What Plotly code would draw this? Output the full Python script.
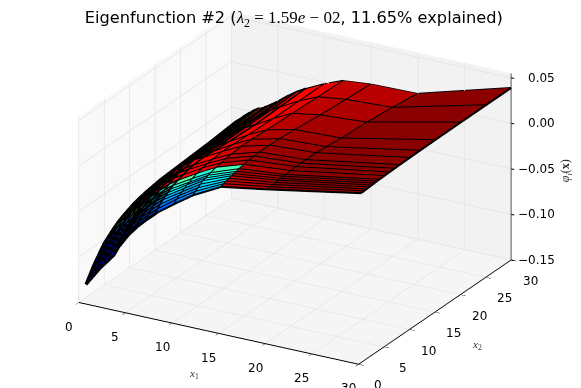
"""Eigenfunction surface over a non-uniform grid."""

import plotly.graph_objects as go

X_GRID = [0.5, 1, 1.5, 2, 2.5, 3, 3.5, 4, 5, 6, 7, 8, 10, 12, 15, 20, 30]
Y_GRID = [0.5, 1, 1.5, 2, 2.5, 3, 3.5, 4, 5, 6, 7, 8, 10, 12, 15, 20, 25, 30]

# one row per Y_GRID entry, one column per X_GRID entry
Z_VALUES = [
    [-0.131, -0.124, -0.117, -0.110, -0.104, -0.098, -0.092, -0.082, -0.067, -0.055, -0.045, -0.036, -0.021, -0.007, 0.009, 0.0175, 0.036],
    [-0.126, -0.119, -0.112, -0.105, -0.099, -0.093, -0.087, -0.078, -0.064, -0.052, -0.042, -0.033, -0.018, -0.005, 0.010, 0.018, 0.0362],
    [-0.121, -0.114, -0.107, -0.101, -0.095, -0.089, -0.083, -0.074, -0.060, -0.049, -0.039, -0.030, -0.016, -0.003, 0.011, 0.0185, 0.0364],
    [-0.116, -0.110, -0.103, -0.097, -0.091, -0.085, -0.079, -0.071, -0.057, -0.046, -0.036, -0.027, -0.014, -0.001, 0.012, 0.019, 0.0366],
    [-0.112, -0.106, -0.099, -0.093, -0.087, -0.081, -0.076, -0.068, -0.054, -0.043, -0.033, -0.025, -0.012, 0.001, 0.013, 0.0195, 0.0368],
    [-0.108, -0.102, -0.095, -0.089, -0.083, -0.078, -0.073, -0.065, -0.052, -0.041, -0.031, -0.023, -0.010, 0.002, 0.0135, 0.0195, 0.037],
    [-0.104, -0.098, -0.092, -0.086, -0.080, -0.075, -0.070, -0.062, -0.049, -0.038, -0.029, -0.021, -0.009, 0.003, 0.014, 0.020, 0.0372],
    [-0.100, -0.094, -0.088, -0.083, -0.077, -0.072, -0.067, -0.060, -0.047, -0.036, -0.027, -0.019, -0.007, 0.004, 0.015, 0.020, 0.0374],
    [-0.095, -0.089, -0.083, -0.078, -0.072, -0.067, -0.062, -0.055, -0.043, -0.033, -0.024, -0.017, -0.005, 0.006, 0.016, 0.0205, 0.0376],
    [-0.090, -0.084, -0.079, -0.074, -0.068, -0.063, -0.058, -0.051, -0.040, -0.030, -0.021, -0.015, -0.003, 0.007, 0.017, 0.021, 0.0378],
    [-0.086, -0.081, -0.076, -0.071, -0.065, -0.060, -0.055, -0.048, -0.037, -0.028, -0.019, -0.013, -0.002, 0.008, 0.0175, 0.021, 0.038],
    [-0.083, -0.078, -0.073, -0.068, -0.062, -0.057, -0.052, -0.046, -0.035, -0.026, -0.018, -0.012, -0.001, 0.009, 0.018, 0.021, 0.0382],
    [-0.078, -0.073, -0.068, -0.063, -0.058, -0.053, -0.048, -0.042, -0.032, -0.024, -0.016, -0.011, 0.000, 0.010, 0.018, 0.021, 0.0384],
    [-0.075, -0.070, -0.065, -0.060, -0.055, -0.051, -0.046, -0.041, -0.033, -0.025, -0.018, -0.012, 0.000, 0.010, 0.0175, 0.020, 0.0386],
    [-0.072, -0.067, -0.062, -0.058, -0.053, -0.049, -0.045, -0.042, -0.034, -0.026, -0.019, -0.013, -0.001, 0.009, 0.016, 0.018, 0.0388],
    [-0.070, -0.065, -0.060, -0.056, -0.052, -0.048, -0.045, -0.042, -0.034, -0.026, -0.019, -0.014, -0.002, 0.008, 0.013, 0.0165, 0.039],
    [-0.068, -0.063, -0.058, -0.054, -0.050, -0.047, -0.044, -0.041, -0.034, -0.026, -0.019, -0.013, -0.002, 0.007, 0.011, 0.0135, 0.039],
    [-0.065, -0.061, -0.056, -0.052, -0.048, -0.045, -0.043, -0.040, -0.033, -0.025, -0.018, -0.012, -0.002, 0.006, 0.009, 0.010, 0.039],
]

# face colours of the first rows (bluer than the height says)
LOW_Y_FACES = [
    [-0.135, -0.133, -0.131, -0.129, -0.127, -0.125, -0.123, -0.121, -0.118, -0.115, -0.112, -0.109, -0.104, -0.098, 0.010, 0.020],
    [-0.133, -0.131, -0.129, -0.127, -0.125, -0.123, -0.121, -0.118, -0.115, -0.112, -0.109, -0.105, -0.102, -0.096, 0.011, 0.020],
    [-0.131, -0.129, -0.127, -0.125, -0.123, -0.121, -0.118, -0.115, -0.112, -0.109, -0.105, -0.101, -0.100, -0.094, 0.012, 0.021],
    [-0.129, -0.127, -0.125, -0.123, -0.121, -0.118, -0.115, -0.112, -0.109, -0.105, -0.101, -0.097, -0.098, -0.092, 0.012, 0.021],
    [-0.127, -0.125, -0.123, -0.121, -0.118, -0.115, -0.112, -0.109, -0.105, -0.101, -0.097, -0.093, -0.096, -0.090, 0.013, 0.021],
    [-0.125, -0.123, -0.121, -0.118, -0.115, -0.112, -0.109, -0.105, -0.101, -0.097, -0.093, -0.089, -0.094, -0.088, 0.013, 0.022],
    [-0.123, -0.121, -0.118, -0.115, -0.112, -0.109, -0.105, -0.101, -0.097, -0.093, -0.089, -0.084, -0.090, -0.085, 0.014, 0.022],
    [-0.120, -0.118, -0.115, -0.112, -0.109, -0.105, -0.101, -0.097, -0.093, -0.088, -0.084, -0.079, -0.086, -0.082, 0.015, 0.022],
]

X_TICKS = [0, 5, 10, 15, 20, 25, 30]
Y_TICKS = [0, 5, 10, 15, 20, 25, 30]
Z_TICKS = [-0.15, -0.10, -0.05, 0.00, 0.05]
Z_TICK_LABELS = ["−0.15", "−0.10", "−0.05", "0.00", "0.05"]

TITLE_TEXT = (
    'Eigenfunction #2 (<span style="font-family:Liberation Serif;font-size:17px">'
    "<i>λ</i><sub>2</sub> = 1.59<i>e</i> − 02</span>, 11.65% explained)"
)

FACE_SCALE = [
    [0.0, "#00007f"], [0.08, "#0000ff"], [0.2, "#0080ff"], [0.28, "#00ffff"],
    [0.36, "#7dff7a"], [0.44, "#ffff00"], [0.5, "#ff8000"], [0.56, "#ff0000"],
    [0.78, "#ff0000"], [0.81, "#cc0000"], [0.85, "#b00000"], [0.9, "#8f0000"], [1.0, "#7f0000"],
]

# dense part of the grid gets a heavier wire, it reads nearly black in the picture
DENSE_COLS = 12

# flatten the grid into mesh vertices, two triangles per cell
nx, ny = len(X_GRID), len(Y_GRID)
vx, vy, vz = [], [], []
for row, yv in zip(Z_VALUES, Y_GRID):
    for xv, zv in zip(X_GRID, row):
        vx.append(xv)
        vy.append(yv)
        vz.append(zv)

tri_i, tri_j, tri_k, cell_z = [], [], [], []
for r in range(ny - 1):
    for c in range(nx - 1):
        a = r * nx + c
        b, d, e = a + 1, a + nx, a + nx + 1
        if r < len(LOW_Y_FACES):
            face = LOW_Y_FACES[r][c]
        else:
            face = (vz[a] + vz[b] + vz[d] + vz[e]) / 4
        tri_i += [a, a]
        tri_j += [b, e]
        tri_k += [e, d]
        cell_z += [face, face]

# wireframe: every grid row and column, broken by None
line_x, line_y, line_z = [], [], []
heavy_x, heavy_y, heavy_z = [], [], []
for r in range(ny):
    line_x += X_GRID[DENSE_COLS - 1:] + [None]
    line_y += [Y_GRID[r]] * (nx - DENSE_COLS + 1) + [None]
    line_z += Z_VALUES[r][DENSE_COLS - 1:] + [None]
    heavy_x += X_GRID[:DENSE_COLS] + [None]
    heavy_y += [Y_GRID[r]] * DENSE_COLS + [None]
    heavy_z += Z_VALUES[r][:DENSE_COLS] + [None]
for c in range(nx):
    col_z = [row[c] for row in Z_VALUES]
    if c < DENSE_COLS:
        heavy_x += [X_GRID[c]] * ny + [None]
        heavy_y += Y_GRID + [None]
        heavy_z += col_z + [None]
    else:
        line_x += [X_GRID[c]] * ny + [None]
        line_y += Y_GRID + [None]
        line_z += col_z + [None]

fig = go.Figure()
fig.add_trace(go.Mesh3d(
    x=vx, y=vy, z=vz, i=tri_i, j=tri_j, k=tri_k,
    intensity=cell_z, intensitymode="cell",
    colorscale=FACE_SCALE, cmin=-0.14, cmax=0.04, showscale=False,
    flatshading=True,
    lighting=dict(ambient=1, diffuse=0, specular=0, roughness=1, fresnel=0),
))
fig.add_trace(go.Scatter3d(
    x=line_x, y=line_y, z=line_z, mode="lines",
    line=dict(color="black", width=4), showlegend=False,
))
fig.add_trace(go.Scatter3d(
    x=heavy_x, y=heavy_y, z=heavy_z, mode="lines",
    line=dict(color="black", width=6), showlegend=False,
))
# z axis sits on the right-hand edge, plotly would put it on the left
fig.add_trace(go.Scatter3d(
    x=[30, 30], y=[30, 30], z=[-0.15, 0.055], mode="lines",
    line=dict(color="black", width=2), showlegend=False,
))

axis_style = dict(
    showgrid=True, gridcolor="#e6e6e6", gridwidth=2,
    showbackground=True, showline=True, linecolor="black", linewidth=2,
    ticks="outside", ticklen=6, tickcolor="black", tickwidth=1,
    showticklabels=False, title=dict(text=""),
    zeroline=False, showspikes=False,
)

TICK_FONT = dict(family="DejaVu Sans", size=12, color="black")
MATH_FONT = dict(family="Liberation Serif", size=11, color="#333333")

labels = []
for t in X_TICKS:
    labels.append(dict(x=t, y=0, z=-0.15, text=str(t), showarrow=False,
                       xshift=-10, yshift=-24, font=TICK_FONT))
for t in Y_TICKS:
    labels.append(dict(x=30, y=t, z=-0.15, text=str(t), showarrow=False,
                       xshift=19, yshift=-21, font=TICK_FONT))
for t, lab in zip(Z_TICKS, Z_TICK_LABELS):
    labels.append(dict(x=30, y=30, z=t, text=lab, showarrow=False,
                       xanchor="right", xshift=46, font=TICK_FONT))
    labels.append(dict(x=30, y=30, z=t, text=" ", showarrow=True, arrowhead=0,
                       arrowwidth=1, arrowcolor="black", ax=6, ay=1))
labels.append(dict(x=15, y=0, z=-0.15, text="<i>x</i><sub>1</sub>", showarrow=False,
                   xshift=-25, yshift=-40, font=MATH_FONT))
labels.append(dict(x=30, y=15, z=-0.15, text="<i>x</i><sub>2</sub>", showarrow=False,
                   xshift=42, yshift=-33, font=MATH_FONT))
labels.append(dict(x=30, y=30, z=-0.05, text="<i>φ<sub>i</sub></i>(<b>x</b>)", showarrow=False,
                   xshift=55, yshift=-2, textangle=-90,
                   font=dict(family="Liberation Serif", size=12, color="#333333")))

fig.update_layout(
    width=581, height=388,
    margin=dict(l=0, r=0, t=0, b=0),
    paper_bgcolor="white",
    showlegend=False,
    title=dict(
        text=TITLE_TEXT, x=0.492, xanchor="center", y=0.975, yanchor="middle",
        font=dict(family="DejaVu Sans", size=16.2, color="black"),
    ),
    scene=dict(
        domain=dict(x=[0.007, 0.981], y=[0.046, 1]),
        aspectmode="manual",
        aspectratio=dict(x=1.74, y=1.67, z=1.095),
        camera=dict(
            eye=dict(x=0.457 * 3, y=-0.804 * 3, z=0.38 * 3),
            up=dict(x=0, y=0, z=1),
            center=dict(x=0, y=0, z=-0.03),
            projection=dict(type="orthographic"),
        ),
        xaxis=dict(axis_style, range=[0, 30], dtick=5, backgroundcolor="#f9f9f9"),
        yaxis=dict(axis_style, range=[0, 30], dtick=5, backgroundcolor="#f2f2f2"),
        zaxis=dict(
            axis_style, range=[-0.15, 0.055], dtick=0.05, backgroundcolor="#f5f5f5",
            showline=False, ticks="",
        ),
        annotations=labels,
    ),
)

fig.write_html("out.html")
